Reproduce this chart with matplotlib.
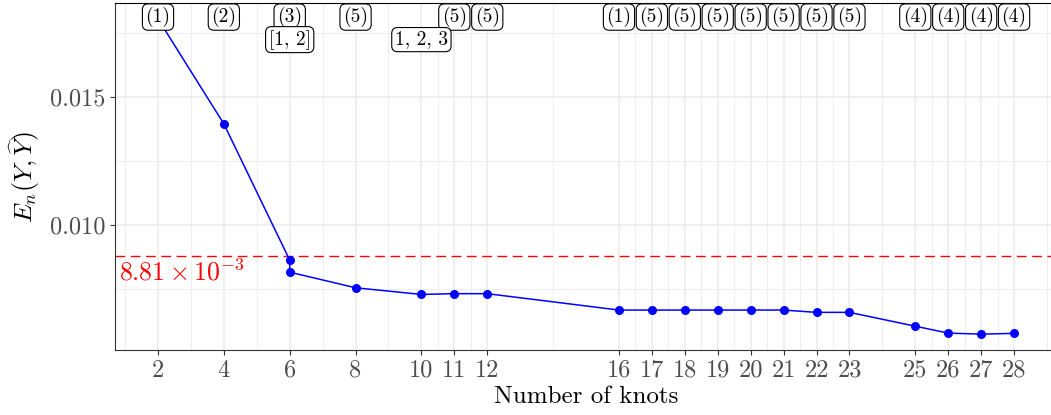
import numpy as np
import matplotlib
matplotlib.use("Agg")
from matplotlib import pyplot as plt

# error of the fitted spline against the number of knots
knots = [2, 4, 6, 6, 8, 10, 11, 12, 16, 17, 18, 19, 20, 21, 22, 23, 25, 26, 27, 28]
error = [0.01805, 0.01395, 0.00863, 0.00816, 0.00755, 0.00729, 0.00732, 0.00732,
         0.00668, 0.00668, 0.00668, 0.00668, 0.00668, 0.00668, 0.00659, 0.00659,
         0.00605, 0.00578, 0.00574, 0.00577]

# annotations shown above each knot count
top_x = [2, 4, 6, 8, 11, 12, 16, 17, 18, 19, 20, 21, 22, 23, 25, 26, 27, 28]
top_text = ["(1)", "(2)", "(3)", "(5)", "(5)", "(5)", "(1)", "(5)", "(5)", "(5)",
            "(5)", "(5)", "(5)", "(5)", "(4)", "(4)", "(4)", "(4)"]
second_x = [6, 10]
second_text = ["[1, 2]", "1, 2, 3"]

threshold = 0.00881
threshold_text = r"$8.81 \times 10^{-3}$"

x_ticks = [2, 4, 6, 8, 10, 11, 12, 16, 17, 18, 19, 20, 21, 22, 23, 25, 26, 27, 28]
y_ticks = [0.010, 0.015]
y_tick_labels = ["0.010", "0.015"]

plt.rcParams["font.family"] = "serif"
plt.rcParams["font.serif"] = ["cmr10"]
plt.rcParams["mathtext.fontset"] = "cm"
plt.rcParams["axes.unicode_minus"] = False
plt.rcParams["axes.formatter.use_mathtext"] = True

fig = plt.figure(figsize=(10.51, 4.15), dpi=100)
ax = fig.add_axes([0.1096, 0.1566, 0.896, 0.8362])

xlo, xhi = 0.7, 29.3
ylo, yhi = 0.00512, 0.01867
ax.set_xlim(xlo, xhi)
ax.set_ylim(ylo, yhi)

# grid lines: majors at the breaks, minors halfway between them
xb = np.array(x_ticks, dtype=float)
xb = np.concatenate([[xb[0] - (xb[1] - xb[0])], xb, [xb[-1] + (xb[1] - xb[0])]])
x_minor = (xb[:-1] + xb[1:]) / 2
yb = np.array([0.005] + y_ticks + [0.020])
y_minor = (yb[:-1] + yb[1:]) / 2
for v in x_minor:
    ax.axvline(v, color="#EBEBEB", lw=0.6, zorder=0)
for v in y_minor:
    ax.axhline(v, color="#EBEBEB", lw=0.6, zorder=0)
for v in x_ticks:
    ax.axvline(v, color="#EBEBEB", lw=1.1, zorder=0)
for v in y_ticks:
    ax.axhline(v, color="#EBEBEB", lw=1.1, zorder=0)

ax.axhline(threshold, color="red", lw=1.0, ls=(0, (7, 4)), zorder=1)
ax.text(0.83, 0.00814, threshold_text, color="red", fontsize=18.5,
        ha="left", va="center")

ax.plot(knots, error, color="blue", lw=1.1, marker="o", markersize=5.5, zorder=3)

box = dict(boxstyle="round,pad=0.16,rounding_size=0.3", fc="white", ec="black", lw=0.8)
for x, t in zip(top_x, top_text):
    ax.text(x, 0.01812, t, fontsize=14, ha="center", va="center", bbox=box, zorder=5)
for x, t in zip(second_x, second_text):
    ax.text(x, 0.01724, t, fontsize=14, ha="center", va="center", bbox=box, zorder=5)

ax.set_xticks(x_ticks)
ax.set_xticklabels([str(v) for v in x_ticks])
ax.set_yticks(y_ticks)
ax.set_yticklabels(y_tick_labels)
ax.tick_params(axis="both", labelsize=17.5, labelcolor="#4D4D4D", color="#333333",
               length=3.5, width=0.8)

for s in ax.spines.values():
    s.set_color("#333333")
    s.set_linewidth(0.8)
ax.spines["top"].set_color("black")

ax.set_xlabel("Number of knots", fontsize=18, labelpad=3)
ax.set_ylabel(r"$E_n(Y,\widehat{Y})$", fontsize=18.5, labelpad=6)

fig.savefig("out.png", dpi=100)
